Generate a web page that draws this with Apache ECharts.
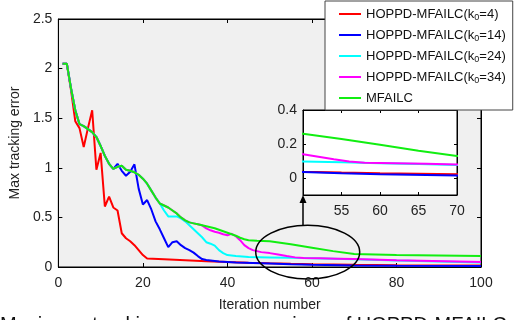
<!DOCTYPE html>
<html>
<head>
<meta charset="utf-8">
<script src="https://cdn.jsdelivr.net/npm/echarts@6/dist/echarts.min.js"></script>
<style>
  html, body { margin: 0; padding: 0; background: #fff; }
  #chart { width: 516px; height: 320px; }
</style>
</head>
<body>
<div id="chart"></div>
<script>
// [iteration, max tracking error]
const mfailc = [[1,2.05],[2,2.05],[3,1.8],[4,1.58],[5,1.44],[6,1.42],[7,1.39],[8,1.36],[9,1.31],[10,1.22],
  [11,1.12],[12,1.04],[13,0.99],[14,1.01],[15,1.02],[16,0.98],[17,0.97],[18,0.955],[19,0.93],[20,0.89],
  [21,0.84],[22,0.77],[23,0.70],[24,0.64],[25,0.62],[26,0.60],[27,0.57],[28,0.54],[29,0.50],[30,0.47],
  [31,0.45],[32,0.44],[33,0.43],[34,0.42],[35,0.41],[36,0.40],[37,0.39],[38,0.375],[39,0.36],[40,0.345],
  [41,0.33],[42,0.315],[43,0.295],[44,0.28],[45,0.27],[47,0.265],[50,0.26],[55,0.23],[60,0.195],[65,0.16],
  [70,0.13],[75,0.125],[80,0.12],[90,0.115],[100,0.11]]

const k4 = [[1,2.05],[2,2.05],[3,1.78],[4,1.47],[5,1.40],[6,1.21],[7,1.40],[8,1.58],[9,0.98],[10,1.15],
  [11,0.61],[12,0.71],[13,0.60],[14,0.57],[15,0.34],[16,0.29],[17,0.26],[18,0.22],[19,0.17],[20,0.12],
  [21,0.085],[25,0.078],[30,0.068],[35,0.058],[40,0.05],[45,0.043],[50,0.037],[55,0.032],[60,0.028],
  [70,0.022],[80,0.018],[100,0.015]]

// k0 runs follow MFAILC up to their switch iteration
const k14 = mfailc.slice(0, 13).concat([[14,1.04],[15,0.97],[16,0.92],[17,0.96],[18,1.035],[19,0.79],
  [20,0.63],[21,0.675],[22,0.58],[23,0.46],[24,0.38],[25,0.29],[26,0.20],[27,0.25],[28,0.26],[29,0.22],
  [30,0.19],[31,0.17],[32,0.145],[33,0.11],[34,0.08],[35,0.07],[36,0.065],[38,0.055],[42,0.045],[46,0.04],
  [50,0.035],[55,0.028],[60,0.022],[70,0.015],[80,0.012],[100,0.01]])

const k24 = mfailc.slice(0, 24).concat([[25,0.57],[26,0.51],[27,0.51],[28,0.51],[29,0.49],[30,0.46],
  [31,0.42],[32,0.38],[33,0.34],[34,0.30],[35,0.25],[36,0.235],[37,0.215],[38,0.17],[39,0.14],[40,0.12],
  [42,0.11],[45,0.10],[50,0.097],[55,0.092],[60,0.087],[65,0.082],[70,0.077],[80,0.065],[100,0.045]])

const k34 = mfailc.slice(0, 34).concat([[35,0.39],[36,0.37],[37,0.355],[38,0.345],[39,0.33],[40,0.32],
  [41,0.335],[42,0.31],[43,0.27],[44,0.22],[45,0.19],[46,0.17],[47,0.16],[48,0.15],[50,0.14],[52,0.125],
  [54,0.11],[56,0.097],[58,0.09],[62,0.087],[66,0.084],[70,0.08],[80,0.068],[100,0.05]])

const names = ['HOPPD-MFAILC(k0=4)', 'HOPPD-MFAILC(k0=14)', 'HOPPD-MFAILC(k0=24)', 'HOPPD-MFAILC(k0=34)', 'MFAILC']
const colors = ['#ff0000', '#0000ff', '#00ffff', '#ff00ff', '#11ee11']
const seriesData = [k4, k14, k24, k34, mfailc]

const insetXLabels = [55, 60, 65, 70]
const insetYLabels = [0, 0.2, 0.4]

const FONT = 'Liberation Sans'
const chart = echarts.init(document.getElementById('chart'), null, { renderer: 'canvas' })

const boxAxis = (extra) => Object.assign({
  type: 'value',
  axisLine: { show: true, onZero: false, lineStyle: { color: '#000', width: 1 } },
  axisTick: { show: true, inside: true, length: 4, lineStyle: { color: '#000' } },
  axisLabel: { show: false },
  splitLine: { show: false },
}, extra)

const tickLabel = { show: true, color: '#222', fontFamily: FONT, fontSize: 14 }

const series = []
seriesData.forEach((d, i) => {
  series.push({
    name: names[i], type: 'line', data: d, xAxisIndex: 0, yAxisIndex: 0,
    symbol: 'none', clip: true, animation: false,
    lineStyle: { color: colors[i], width: 2 }, itemStyle: { color: colors[i] },
  })
})
seriesData.forEach((d, i) => {
  series.push({
    name: names[i], type: 'line', data: d, xAxisIndex: 2, yAxisIndex: 2,
    symbol: 'none', clip: true, animation: false,
    lineStyle: { color: colors[i], width: 2 }, itemStyle: { color: colors[i] },
  })
})

chart.setOption({
  animation: false,
  grid: [
    { left: 58, top: 19, right: 35, bottom: 53, show: true, backgroundColor: '#f0f0f0', borderColor: '#000', borderWidth: 1 },
    { left: 303, top: 110, width: 154, height: 85, show: true, backgroundColor: '#fff', borderColor: '#000', borderWidth: 1, z: 3 },
  ],
  xAxis: [
    boxAxis({ gridIndex: 0, min: 0, max: 100, interval: 20, position: 'bottom',
      axisLabel: Object.assign({ margin: 9 }, tickLabel),
      name: 'Iteration number', nameLocation: 'middle', nameGap: 31,
      nameTextStyle: { color: '#222', fontFamily: FONT, fontSize: 14 } }),
    boxAxis({ gridIndex: 0, min: 0, max: 100, interval: 20, position: 'top' }),
    boxAxis({ gridIndex: 1, min: 50, max: 70, position: 'bottom', z: 3,
      axisTick: { show: true, inside: true, length: 3, customValues: insetXLabels, lineStyle: { color: '#000' } },
      axisLabel: Object.assign({ margin: 9, customValues: insetXLabels }, tickLabel) }),
    boxAxis({ gridIndex: 1, min: 50, max: 70, position: 'top', z: 3,
      axisTick: { show: true, inside: true, length: 3, customValues: insetXLabels, lineStyle: { color: '#000' } } }),
  ],
  yAxis: [
    boxAxis({ gridIndex: 0, min: 0, max: 2.5, interval: 0.5, position: 'left',
      axisLabel: Object.assign({ margin: 6 }, tickLabel),
      name: 'Max tracking error', nameLocation: 'middle', nameGap: 25,
      nameTextStyle: { color: '#222', fontFamily: FONT, fontSize: 14 } }),
    boxAxis({ gridIndex: 0, min: 0, max: 2.5, interval: 0.5, position: 'right' }),
    boxAxis({ gridIndex: 1, min: -0.1, max: 0.4, position: 'left', z: 3,
      axisTick: { show: true, inside: true, length: 3, customValues: insetYLabels, lineStyle: { color: '#000' } },
      axisLabel: Object.assign({ margin: 6, customValues: insetYLabels }, tickLabel) }),
    boxAxis({ gridIndex: 1, min: -0.1, max: 0.4, position: 'right', z: 3,
      axisTick: { show: true, inside: true, length: 3, customValues: insetYLabels, lineStyle: { color: '#000' } } }),
  ],
  legend: {
    data: names,
    orient: 'vertical',
    left: 325, top: 1,
    padding: [5, 7, 4, 14],
    itemGap: 5,
    itemWidth: 22, itemHeight: 2,
    icon: 'rect',
    backgroundColor: '#fff',
    borderColor: '#444', borderWidth: 1, borderRadius: 0,
    formatter: (name) => name.replace('k0', 'k{sub|0}'),
    textStyle: {
      color: '#111', fontFamily: FONT, fontSize: 13, lineHeight: 16,
      rich: { sub: { fontFamily: FONT, fontSize: 9, padding: [7, 0, 0, 0] } },
    },
  },
  series: series,
})

// zoom-region marker: ellipse around iterations ~47-71 plus an arrow up to the inset
const c = chart.convertToPixel({ xAxisIndex: 0, yAxisIndex: 0 }, [59, 0.15])
const edge = chart.convertToPixel({ xAxisIndex: 0, yAxisIndex: 0 }, [71.3, 0.42])
const rx = edge[0] - c[0], ry = edge[1] > c[1] ? edge[1] - c[1] : c[1] - edge[1]
const tip = chart.convertToPixel({ xAxisIndex: 2, yAxisIndex: 2 }, [50, -0.1])

chart.setOption({
  graphic: [
    { type: 'ellipse', shape: { cx: c[0], cy: c[1], rx: rx, ry: ry },
      style: { fill: 'none', stroke: '#000', lineWidth: 1.5 }, z: 10 },
    { type: 'line', shape: { x1: tip[0], y1: c[1] - ry, x2: tip[0], y2: tip[1] + 6 },
      style: { stroke: '#000', lineWidth: 1.5 }, z: 10 },
    { type: 'polygon', shape: { points: [[tip[0], tip[1]], [tip[0] - 3.5, tip[1] + 8], [tip[0] + 3.5, tip[1] + 8]] },
      style: { fill: '#000' }, z: 10 },
    { type: 'text', left: 0, top: 315,
      style: { text: 'Maximum tracking errors comparison of HOPPD-MFAILC', fill: '#111',
        font: '20px "Liberation Sans"' }, z: 10 },
  ],
})
</script>
</body>
</html>
